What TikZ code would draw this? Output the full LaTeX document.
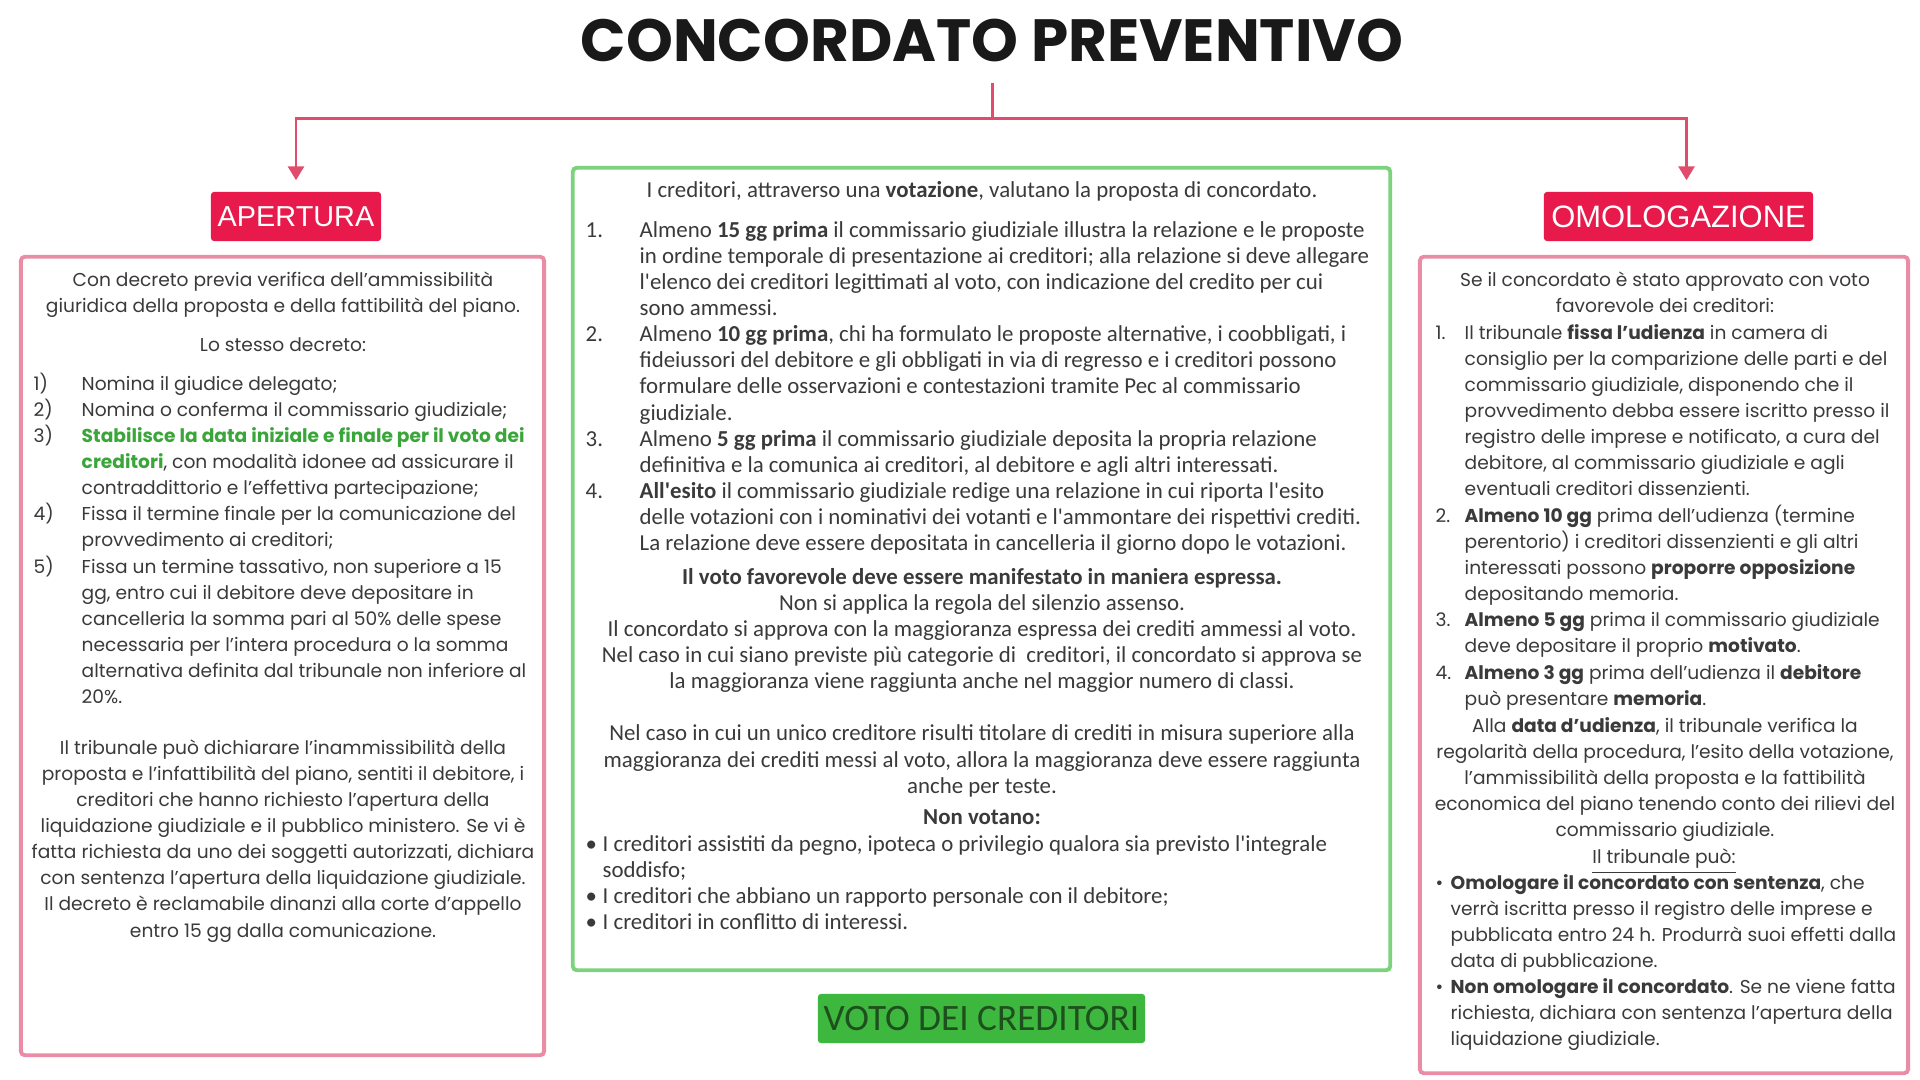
\documentclass[tikz,border=0pt]{standalone}
\usepackage{fontspec}
\setmainfont{Poppins}
\newfontfamily\titlefont{Poppins}
\newfontfamily\tagfont{Liberation Sans}
\newfontfamily\narrowfont{Carlito}
\usepackage{xcolor}
\usetikzlibrary{arrows.meta}

\definecolor{crimson}{HTML}{E8194B}
\definecolor{rosa}{HTML}{EB8CA7}
\definecolor{linea}{HTML}{E24C6C}
\definecolor{verde}{HTML}{7DD27D}
\definecolor{verdone}{HTML}{3DB73D}
\definecolor{verdescuro}{HTML}{1E4F1E}
\definecolor{verdetesto}{HTML}{3AA63A}
\definecolor{testo}{HTML}{3A3A3A}

\newcommand{\sidefont}{\fontsize{5.3}{7.44}\selectfont}
\newcommand{\midfont}{\narrowfont\fontsize{6.5}{7.44}\selectfont}

\begin{document}
\begin{tikzpicture}[x=0.01cm,y=-0.01cm,
  panel/.style={draw, line width=1.1pt, rounded corners=0.04cm, inner sep=0},
  tag/.style={fill=crimson, text=white, rounded corners=0.03cm, minimum height=0.49cm,
    inner sep=0, font=\tagfont\fontsize{8.2}{9}\selectfont},
  link/.style={draw=linea, line width=0.85pt},
  txt/.style={inner sep=0, text=testo, font=\sidefont},
  midtxt/.style={inner sep=0, text=testo, font=\midfont}]
\useasboundingbox[fill=white] (0,0) rectangle (1920,1080);

% title and headings
\node[anchor=base, inner sep=0.2cm, text=black!90,
  font=\titlefont\bfseries\fontsize{16.95}{18}\selectfont] (title) at (992,62) {CONCORDATO PREVENTIVO};
\node[tag, minimum width=1.70cm] (apertura) at (296,216.5) {APERTURA};
\node[tag, minimum width=2.69cm, font=\tagfont\fontsize{8.8}{9}\selectfont] (omologazione) at (1678.5,216.5) {OMOLOGAZIONE};
\node[tag, fill=verdone, text=verdescuro, minimum width=3.27cm,
  font=\narrowfont\fontsize{10.6}{11}\selectfont] (voto) at (981.5,1018.5) {VOTO DEI CREDITORI};

% panels
\node[panel, draw=rosa, minimum width=5.23cm, minimum height=7.98cm] (aperturabox) at (282.5,656) {};
\node[panel, draw=verde, minimum width=8.17cm, minimum height=8.02cm] (votobox) at (981.5,569) {};
\node[panel, draw=rosa, minimum width=4.88cm, minimum height=8.16cm] (omologabox) at (1664,665) {};

% connectors
\coordinate (split) at (992,119);
\draw[link] (title.south) -- (split);
\draw[link, -{Triangle[length=0.14cm,width=0.16cm]}, shorten >=0.11cm] (split) -| (apertura.north);
\draw[link, -{Triangle[length=0.14cm,width=0.16cm]}, shorten >=0.11cm] (split) -| ([xshift=0.08cm]omologazione.north);

% apertura
\node[txt, anchor=north] (apintro) at (283,267) {\begin{tabular}{@{}c@{}}
Con decreto previa verifica dell'ammissibilità\\
giuridica della proposta e della fattibilità del piano.
\end{tabular}};
\node[txt, anchor=north] (apstesso) at (283,332) {\begin{tabular}{@{}c@{}}Lo stesso decreto:\end{tabular}};
\node[txt, anchor=north west] (aplist) at (33,371) {\begin{tabular}{@{}p{0.48cm}@{}l@{}}
1) & Nomina il giudice delegato;\\
2) & Nomina o conferma il commissario giudiziale;\\
3) & \textbf{\color{verdetesto}Stabilisce la data iniziale e finale per il voto dei}\\
   & \textbf{\color{verdetesto}creditori}, con modalità idonee ad assicurare il\\
   & contraddittorio e l'effettiva partecipazione;\\
4) & Fissa il termine finale per la comunicazione del\\
   & provvedimento ai creditori;\\
5) & Fissa un termine tassativo, non superiore a 15\\
   & gg, entro cui il debitore deve depositare in\\
   & cancelleria la somma pari al 50\% delle spese\\
   & necessaria per l'intera procedura o la somma\\
   & alternativa definita dal tribunale non inferiore al\\
   & 20\%.
\end{tabular}};
\node[txt, anchor=north] (aptribunale) at (283,735) {\begin{tabular}{@{}c@{}}
Il tribunale può dichiarare l'inammissibilità della\\
proposta e l'infattibilità del piano, sentiti il debitore, i\\
creditori che hanno richiesto l'apertura della\\
liquidazione giudiziale e il pubblico ministero. Se vi è\\
fatta richiesta da uno dei soggetti autorizzati, dichiara\\
con sentenza l'apertura della liquidazione giudiziale.\\
Il decreto è reclamabile dinanzi alla corte d'appello\\
entro 15 gg dalla comunicazione.
\end{tabular}};

% voto dei creditori
\node[midtxt, anchor=north] (votointro) at (982,178) {\begin{tabular}{@{}c@{}}
I creditori, attraverso una \textbf{votazione}, valutano la proposta di concordato.
\end{tabular}};
\node[midtxt, anchor=north west] (votolist) at (585,218) {\begin{tabular}{@{}p{0.54cm}@{}l@{}}
1. & Almeno \textbf{15 gg prima} il commissario giudiziale illustra la relazione e le proposte\\
   & in ordine temporale di presentazione ai creditori; alla relazione si deve allegare\\
   & l'elenco dei creditori legittimati al voto, con indicazione del credito per cui\\
   & sono ammessi.\\
2. & Almeno \textbf{10 gg prima}, chi ha formulato le proposte alternative, i coobbligati, i\\
   & fideiussori del debitore e gli obbligati in via di regresso e i creditori possono\\
   & formulare delle osservazioni e contestazioni tramite Pec al commissario\\
   & giudiziale.\\
3. & Almeno \textbf{5 gg prima} il commissario giudiziale deposita la propria relazione\\
   & definitiva e la comunica ai creditori, al debitore e agli altri interessati.\\
4. & \textbf{All'esito} il commissario giudiziale redige una relazione in cui riporta l'esito\\
   & delle votazioni con i nominativi dei votanti e l'ammontare dei rispettivi crediti.\\
   & La relazione deve essere depositata in cancelleria il giorno dopo le votazioni.
\end{tabular}};
\node[midtxt, anchor=north] (votoregole) at (982,565) {\begin{tabular}{@{}c@{}}
\textbf{Il voto favorevole deve essere manifestato in maniera espressa.}\\
Non si applica la regola del silenzio assenso.\\
Il concordato si approva con la maggioranza espressa dei crediti ammessi al voto.\\
Nel caso in cui siano previste più categorie di\ \ creditori, il concordato si approva se\\
la maggioranza viene raggiunta anche nel maggior numero di classi.\\
\\
Nel caso in cui un unico creditore risulti titolare di crediti in misura superiore alla\\
maggioranza dei crediti messi al voto, allora la maggioranza deve essere raggiunta\\
anche per teste.
\end{tabular}};
\node[midtxt, anchor=north] (nonvotano) at (982,805) {\begin{tabular}{@{}c@{}}\textbf{Non votano:}\end{tabular}};
\node[midtxt, anchor=north west] (votobullets) at (585,832) {\begin{tabular}{@{}p{0.17cm}@{}l@{}}
\textbullet & I creditori assistiti da pegno, ipoteca o privilegio qualora sia previsto l'integrale\\
            & soddisfo;\\
\textbullet & I creditori che abbiano un rapporto personale con il debitore;\\
\textbullet & I creditori in conflitto di interessi.
\end{tabular}};

% omologazione
\node[txt, anchor=north] (omintro) at (1665,267) {\begin{tabular}{@{}c@{}}
Se il concordato è stato approvato con voto\\
favorevole dei creditori:
\end{tabular}};
\node[txt, anchor=north west] (omlist) at (1435,320) {\begin{tabular}{@{}p{0.29cm}@{}l@{}}
1. & Il tribunale \textbf{fissa l'udienza} in camera di\\
   & consiglio per la comparizione delle parti e del\\
   & commissario giudiziale, disponendo che il\\
   & provvedimento debba essere iscritto presso il\\
   & registro delle imprese e notificato, a cura del\\
   & debitore, al commissario giudiziale e agli\\
   & eventuali creditori dissenzienti.\\
2. & \textbf{Almeno 10 gg} prima dell'udienza (termine\\
   & perentorio) i creditori dissenzienti e gli altri\\
   & interessati possono \textbf{proporre opposizione}\\
   & depositando memoria.\\
3. & \textbf{Almeno 5 gg} prima il commissario giudiziale\\
   & deve depositare il proprio \textbf{motivato}.\\
4. & \textbf{Almeno 3 gg} prima dell'udienza il \textbf{debitore}\\
   & può presentare \textbf{memoria}.
\end{tabular}};
\node[txt, anchor=north] (omudienza) at (1665,713) {\begin{tabular}{@{}c@{}}
Alla \textbf{data d'udienza}, il tribunale verifica la\\
regolarità della procedura, l'esito della votazione,\\
l'ammissibilità della proposta e la fattibilità\\
economica del piano tenendo conto dei rilievi del\\
commissario giudiziale.
\end{tabular}};
\node[txt, anchor=north] (ompuo) at (1664,844) {\begin{tabular}{@{}c@{}}\underline{Il tribunale può:}\end{tabular}};
\node[txt, anchor=north west] (ombullets) at (1435,870) {\begin{tabular}{@{}p{0.15cm}@{}l@{}}
\textbullet & \textbf{Omologare il concordato con sentenza}, che\\
            & verrà iscritta presso il registro delle imprese e\\
            & pubblicata entro 24 h. Produrrà suoi effetti dalla\\
            & data di pubblicazione.\\
\textbullet & \textbf{Non omologare il concordato}. Se ne viene fatta\\
            & richiesta, dichiara con sentenza l'apertura della\\
            & liquidazione giudiziale.
\end{tabular}};
\end{tikzpicture}
\end{document}
